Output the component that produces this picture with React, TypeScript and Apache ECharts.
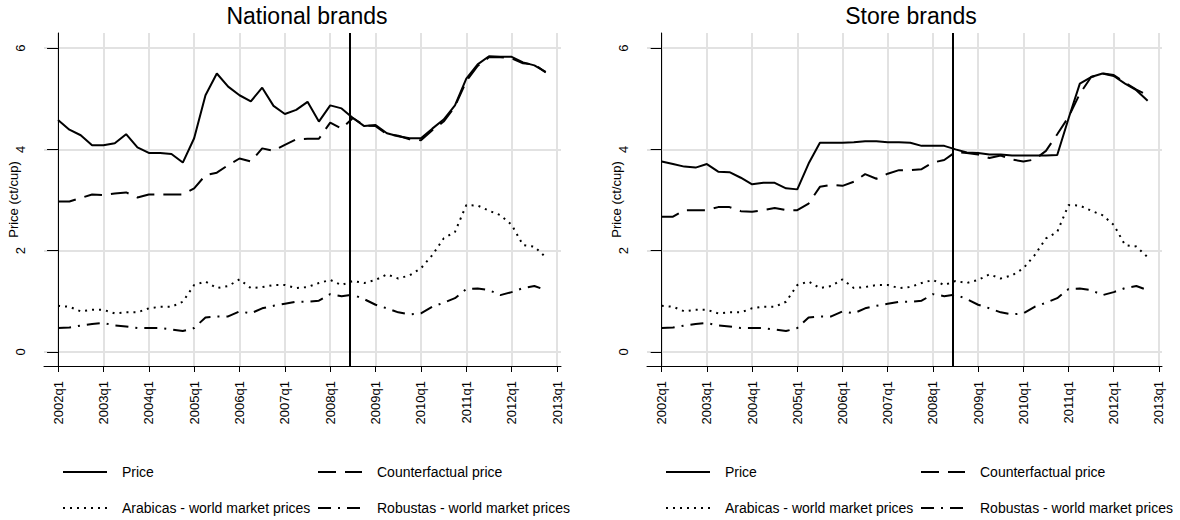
import React, { useEffect, useRef } from "react";
import * as echarts from "echarts";

// ---- data ----
const years = [2002, 2003, 2004, 2005, 2006, 2007, 2008, 2009, 2010, 2011, 2012];
const quarters = years.flatMap((y) => ["q1", "q2", "q3", "q4"].map((q) => `${y}${q}`));
const tickLabels = ["2002q1", "2003q1", "2004q1", "2005q1", "2006q1", "2007q1", "2008q1", "2009q1", "2010q1", "2011q1", "2012q1", "2013q1"];
const tickPositions = [0, 4, 8, 12, 16, 20, 24, 28, 32, 36, 40, 44];
const yTicks = [0, 2, 4, 6];
const breakQuarter = 25.75; // 2008q3

const nationalPrice = [4.58, 4.39, 4.28, 4.08, 4.08, 4.12, 4.30, 4.04, 3.93, 3.93, 3.91, 3.74, 4.22, 5.07, 5.50, 5.24, 5.07, 4.95, 5.22, 4.86, 4.70, 4.78, 4.94, 4.55, 4.87, 4.81, 4.62, 4.46, 4.48, 4.32, 4.26, 4.22, 4.22, 4.41, 4.59, 4.87, 5.40, 5.68, 5.84, 5.83, 5.83, 5.72, 5.66, 5.53];
const nationalCounterfactual = [2.97, 2.97, 3.04, 3.11, 3.10, 3.13, 3.15, 3.05, 3.11, 3.11, 3.11, 3.11, 3.23, 3.49, 3.54, 3.69, 3.82, 3.76, 4.02, 3.97, 4.09, 4.20, 4.21, 4.21, 4.53, 4.41, 4.62, 4.47, 4.46, 4.30, 4.27, 4.20, 4.18, 4.38, 4.55, 4.85, 5.35, 5.65, 5.82, 5.82, 5.80, 5.70, 5.68, 5.52];
const storePrice = [3.76, 3.71, 3.66, 3.64, 3.71, 3.56, 3.55, 3.44, 3.31, 3.34, 3.34, 3.23, 3.21, 3.72, 4.13, 4.13, 4.13, 4.14, 4.16, 4.16, 4.14, 4.14, 4.13, 4.07, 4.07, 4.07, 4.00, 3.94, 3.93, 3.90, 3.90, 3.88, 3.88, 3.88, 3.88, 3.89, 4.61, 5.30, 5.43, 5.50, 5.45, 5.30, 5.17, 4.96];
const storeCounterfactual = [2.67, 2.67, 2.80, 2.80, 2.80, 2.86, 2.86, 2.78, 2.77, 2.80, 2.84, 2.80, 2.80, 2.93, 3.26, 3.30, 3.28, 3.36, 3.51, 3.42, 3.52, 3.59, 3.59, 3.61, 3.74, 3.79, 3.95, 3.93, 3.90, 3.83, 3.88, 3.80, 3.76, 3.80, 3.97, 4.30, 4.64, 5.10, 5.43, 5.50, 5.47, 5.32, 5.18, 5.07];
const arabicas = [0.91, 0.89, 0.80, 0.83, 0.83, 0.76, 0.78, 0.78, 0.86, 0.89, 0.89, 0.99, 1.32, 1.39, 1.26, 1.30, 1.43, 1.26, 1.28, 1.32, 1.32, 1.26, 1.28, 1.36, 1.42, 1.32, 1.40, 1.36, 1.42, 1.53, 1.45, 1.51, 1.65, 1.91, 2.24, 2.37, 2.90, 2.89, 2.79, 2.70, 2.51, 2.11, 2.08, 1.87];
const robustas = [0.47, 0.48, 0.52, 0.55, 0.57, 0.52, 0.50, 0.47, 0.47, 0.47, 0.44, 0.41, 0.47, 0.68, 0.70, 0.70, 0.80, 0.76, 0.86, 0.91, 0.95, 0.99, 0.99, 1.01, 1.14, 1.10, 1.13, 1.04, 0.93, 0.86, 0.78, 0.74, 0.76, 0.89, 0.97, 1.06, 1.24, 1.25, 1.22, 1.12, 1.18, 1.26, 1.30, 1.22];

const panelTitles = ["National brands", "Store brands"];
const seriesNames = ["Price", "Counterfactual price", "Arabicas - world market prices", "Robustas - world market prices"];

const FONT = "'Liberation Sans', Arial, Helvetica, sans-serif";

const lineTypes: any[] = ["solid", [18, 9], [2, 5], [13, 7, 2, 7]];

const toXY = (vals: number[]) => vals.map((v, i) => [i, v]);

export default function App() {
  const ref = useRef<HTMLDivElement>(null);

  useEffect(() => {
    if (!ref.current) return;
    const chart = echarts.init(ref.current, undefined, { renderer: "svg" });

    const grids = [
      { left: 44, top: 33, width: 517, height: 333 },
      { left: 647, top: 33, width: 515, height: 333 },
    ];
    const xRanges = [
      { min: -1.24, max: 44.35 },
      { min: -1.3, max: 44.27 },
    ];

    const panelData = [
      [nationalPrice, nationalCounterfactual, arabicas, robustas],
      [storePrice, storeCounterfactual, arabicas, robustas],
    ];

    const xAxis = [0, 1].map((g) => ({
      type: "value",
      gridIndex: g,
      min: xRanges[g].min,
      max: xRanges[g].max,
      axisLine: { show: true, onZero: false, lineStyle: { color: "#000", width: 1 } },
      axisTick: { show: true, length: 6, customValues: tickPositions, lineStyle: { color: "#000", width: 1 } },
      axisLabel: {
        customValues: tickPositions,
        rotate: 90,
        margin: 15,
        fontSize: 13,
        color: "#000",
        fontFamily: FONT,
        formatter: (v: number) => tickLabels[Math.round(v / 4)] ?? "",
      },
      splitLine: { show: true, lineStyle: { color: "#e2e2e2", width: 2 } },
    }));

    const yAxis = [0, 1].map((g) => ({
      type: "value",
      gridIndex: g,
      min: -0.28,
      max: 6.3,
      name: "Price (ct/cup)",
      nameLocation: "middle",
      nameRotate: 90,
      nameGap: 24,
      nameMoveOverlap: false,
      nameTextStyle: { fontSize: 13, color: "#000", fontFamily: FONT },
      axisLine: { show: true, lineStyle: { color: "#000", width: 1 } },
      axisTick: { show: true, length: 11, customValues: yTicks, lineStyle: { color: "#000", width: 1 } },
      axisLabel: {
        customValues: yTicks,
        rotate: 90,
        margin: 30,
        align: "center",
        verticalAlign: "top",
        fontSize: 13,
        color: "#000",
        fontFamily: FONT,
      },
      splitLine: { show: true, lineStyle: { color: "#e2e2e2", width: 2 } },
    }));

    const series: any[] = [];
    [0, 1].forEach((g) => {
      panelData[g].forEach((vals, k) => {
        series.push({
          type: "line",
          name: seriesNames[k],
          xAxisIndex: g,
          yAxisIndex: g,
          data: toXY(vals),
          symbol: "none",
          smooth: false,
          lineStyle: { color: "#000", width: 2, type: lineTypes[k] },
          itemStyle: { color: "#000" },
          z: 5 - k,
          markLine:
            k === 0
              ? {
                  silent: true,
                  symbol: "none",
                  label: { show: false },
                  lineStyle: { color: "#000", width: 2, type: "solid" },
                  data: [{ xAxis: breakQuarter }],
                }
              : undefined,
        });
      });
    });

    const legendCols = [
      [62, 317],
      [665, 920],
    ];
    const legendRows = [465, 501];
    const legend: any[] = [];
    [0, 1].forEach((g) => {
      seriesNames.forEach((name, k) => {
        legend.push({
          data: [name],
          left: legendCols[g][k % 2],
          top: legendRows[Math.floor(k / 2)],
          orient: "horizontal",
          padding: 0,
          itemWidth: 44,
          itemHeight: 14,
          selectedMode: false,
          itemStyle: { opacity: 0 },
          textStyle: { fontSize: 14, color: "#000", fontFamily: FONT, padding: [0, 0, 0, 10] },
        });
      });
    });

    chart.setOption({
      animation: false,
      backgroundColor: "#fff",
      textStyle: { fontFamily: FONT },
      title: [
        { text: panelTitles[0], left: 302, top: -1, textAlign: "center", textStyle: { fontSize: 23, fontWeight: "normal", color: "#000", fontFamily: FONT } },
        { text: panelTitles[1], left: 906, top: -1, textAlign: "center", textStyle: { fontSize: 23, fontWeight: "normal", color: "#000", fontFamily: FONT } },
      ],
      grid: grids,
      xAxis,
      yAxis,
      legend,
      series,
    });

    return () => chart.dispose();
  }, []);

  return <div ref={ref} style={{ position: "fixed", left: 0, top: 0, width: 1180, height: 520 }} />;
}
